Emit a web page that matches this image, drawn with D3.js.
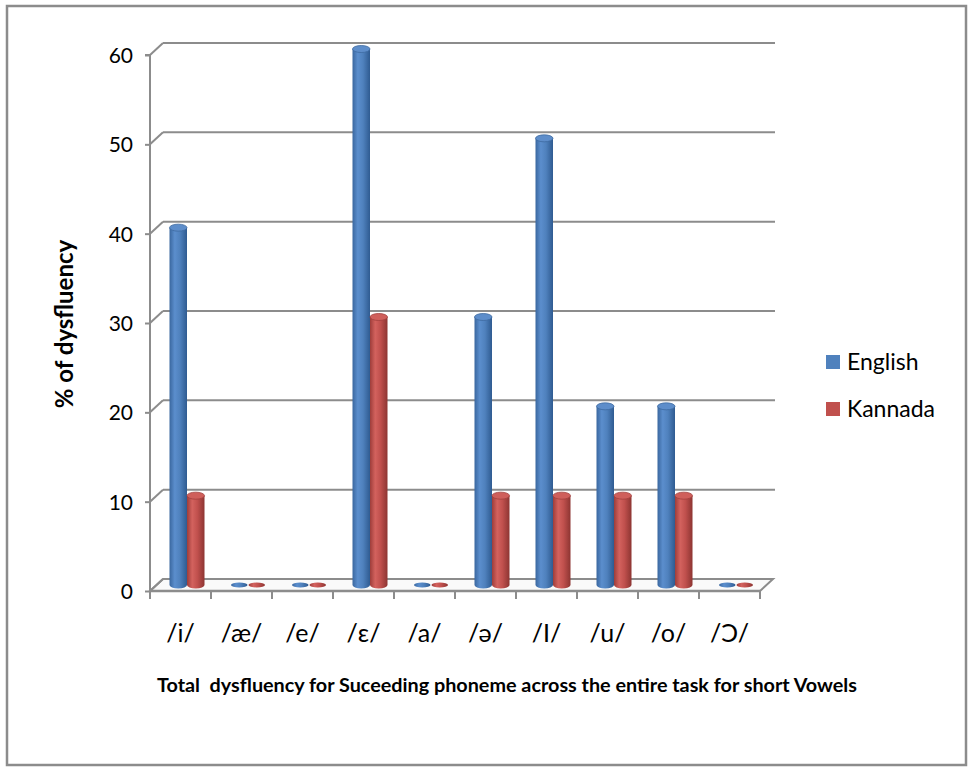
<!DOCTYPE html>
<html>
<head>
<meta charset="utf-8">
<script src="https://cdn.jsdelivr.net/npm/d3@7"></script>
<style>
  html, body { margin: 0; padding: 0; background: #fff; }
  svg { display: block; }
  text { font-family: Lato, "Open Sans", "Liberation Sans", sans-serif; fill: #000; }
</style>
</head>
<body>
<svg id="chart" width="970" height="767"></svg>
<script>
// Short vowel categories and % dysfluency per language
const categories = ["/i/", "/æ/", "/e/", "/ɛ/", "/a/", "/ə/", "/I/", "/u/", "/o/", "/Ɔ/"];
const english = [40, 0, 0, 60, 0, 30, 50, 20, 20, 0];
const kannada = [10, 0, 0, 30, 0, 10, 10, 10, 10, 0];
const seriesNames = ["English", "Kannada"];
const yTicks = [0, 10, 20, 30, 40, 50, 60];

const svg = d3.select("#chart");

// outer frame
svg.append("rect")
  .attr("x", 7).attr("y", 6).attr("width", 959).attr("height", 759)
  .attr("fill", "#fff").attr("stroke", "#8c8c8c").attr("stroke-width", 2.5);

// 3D depth offset for the back wall
const dx = 13, dy = -12;
const x = d3.scaleBand().domain(categories).range([150, 760]).padding(0);
const y = d3.scaleLinear().domain([0, 60]).range([591, 55]);

const gridColor = "#8c8c8c";

// gradients for cylinders
const defs = svg.append("defs");
function cylGrad(id, stops) {
  const g = defs.append("linearGradient").attr("id", id)
    .attr("x1", "0%").attr("x2", "100%").attr("y1", "0%").attr("y2", "0%");
  stops.forEach(s => g.append("stop").attr("offset", s[0]).attr("stop-color", s[1]));
}
cylGrad("gBlue", [["0%", "#3a679f"], ["30%", "#5b8ecd"], ["60%", "#4f81bd"], ["100%", "#2f5b91"]]);
cylGrad("gRed", [["0%", "#9e3d3a"], ["30%", "#d3625e"], ["60%", "#c0504d"], ["100%", "#8d3532"]]);
const fills = ["url(#gBlue)", "url(#gRed)"];
const capFill = ["#5d8dca", "#cf5f5b"];
const capStroke = ["#3e6aa0", "#a2403d"];
const legendColor = ["#4f81bd", "#c0504d"];

// floor
const floorY = y(0);
svg.append("polygon")
  .attr("points", [[150, floorY], [150 + dx, floorY + dy], [760 + dx, floorY + dy], [760, floorY]].join(" "))
  .attr("fill", "#fafafa").attr("stroke", gridColor).attr("stroke-width", 2);

// gridlines on back wall and diagonals to front axis
const grid = svg.append("g");
yTicks.forEach(v => {
  if (v > 0) {
    grid.append("line")
      .attr("x1", 150 + dx).attr("x2", 760 + dx + 2)
      .attr("y1", y(v) + dy).attr("y2", y(v) + dy)
      .attr("stroke", gridColor).attr("stroke-width", 2);
  }
  grid.append("line")
    .attr("x1", 150).attr("y1", y(v))
    .attr("x2", 150 + dx).attr("y2", y(v) + dy)
    .attr("stroke", gridColor).attr("stroke-width", 2);
});

// front y axis
const yAxis = d3.axisLeft(y).tickValues(yTicks).tickSize(5).tickPadding(12);
const yg = svg.append("g").attr("transform", "translate(150,0)").call(yAxis);
yg.select(".domain").attr("stroke", gridColor).attr("stroke-width", 2).attr("d", `M-5,${y(60)}H0V${y(0) + 8}`);
yg.selectAll(".tick line").attr("stroke", gridColor).attr("stroke-width", 2);
yg.selectAll(".tick text").style("font-size", "21px").attr("dy", "0.35em");

// x axis: labels centered in each band, tick marks at band boundaries
const xAxis = d3.axisBottom(x).tickSize(0).tickPadding(42);
const xg = svg.append("g").attr("transform", `translate(0,${floorY})`).call(xAxis);
xg.select(".domain").remove();
xg.selectAll(".tick text").style("font-size", "25px").attr("dy", "0.35em");
const bounds = categories.map(c => x(c)).concat([x.range()[1]]);
svg.append("g").selectAll("line").data(bounds).join("line")
  .attr("x1", d => d).attr("x2", d => d)
  .attr("y1", floorY).attr("y2", floorY + 8)
  .attr("stroke", gridColor).attr("stroke-width", 2);
svg.append("line").attr("x1", 150).attr("x2", 760).attr("y1", floorY).attr("y2", floorY)
  .attr("stroke", gridColor).attr("stroke-width", 2.5);

// cylinders
const bw = 17.5, ry = 3.5;
const bars = svg.append("g");
categories.forEach((c, i) => {
  const cx = x(c) + x.bandwidth() / 2 + dx / 2;
  [english[i], kannada[i]].forEach((v, s) => {
    const left = cx - bw + s * bw;
    const base = y(0) + dy / 2;
    const top = y(v) + dy / 2;
    const rx = bw / 2;
    const mid = left + rx;
    if (v === 0) {
      bars.append("ellipse")
        .attr("cx", mid).attr("cy", base).attr("rx", rx - 0.5).attr("ry", 2.5)
        .attr("fill", fills[s]);
      return;
    }
    bars.append("path")
      .attr("d", `M${left},${top} L${left},${base} A${rx},${ry} 0 0 0 ${left + bw},${base} L${left + bw},${top} Z`)
      .attr("fill", fills[s]);
    bars.append("ellipse")
      .attr("cx", mid).attr("cy", top).attr("rx", rx).attr("ry", ry)
      .attr("fill", capFill[s]).attr("stroke", capStroke[s]).attr("stroke-width", 0.8);
  });
});

// y axis title
svg.append("text")
  .attr("transform", "translate(73,324) rotate(-90)")
  .attr("text-anchor", "middle")
  .style("font-size", "24px").style("font-weight", "bold")
  .text("% of dysfluency");

// x axis title
svg.append("text")
  .attr("x", 507).attr("y", 692)
  .attr("text-anchor", "middle")
  .style("font-size", "19.8px").style("font-weight", "bold")
  .style("white-space", "pre")
  .text("Total  dysfluency for Suceeding phoneme across the entire task for short Vowels");

// legend
const lg = svg.append("g");
seriesNames.forEach((n, i) => {
  const yy = 362 + i * 47;
  lg.append("rect").attr("x", 826).attr("y", yy - 7).attr("width", 14).attr("height", 14)
    .attr("fill", legendColor[i]);
  lg.append("text").attr("x", 847).attr("y", yy).attr("dy", "0.35em")
    .style("font-size", "23px").text(n);
});
</script>
</body>
</html>
